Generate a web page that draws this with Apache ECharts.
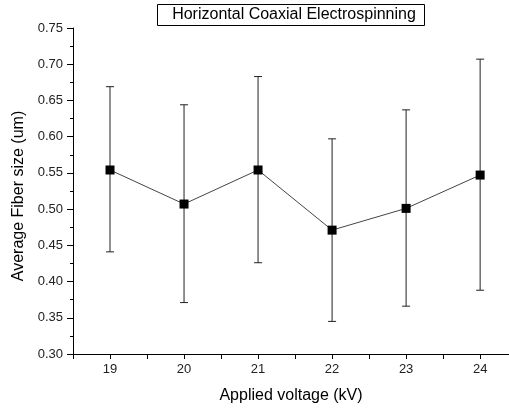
<!DOCTYPE html>
<html>
<head>
<meta charset="utf-8">
<script src="https://cdn.jsdelivr.net/npm/echarts@6/dist/echarts.min.js"></script>
<style>
  html, body { margin: 0; padding: 0; background: #fff; }
  #main { width: 509px; height: 409px; }
</style>
</head>
<body>
<div id="main"></div>
<script>
// voltage (kV) vs mean fiber size with error bars
var voltages = [19, 20, 21, 22, 23, 24];
var fiberSize = [0.554, 0.507, 0.554, 0.471, 0.501, 0.547];
var errLow = [0.441, 0.371, 0.426, 0.345, 0.366, 0.388];
var errHigh = [0.669, 0.644, 0.683, 0.597, 0.637, 0.707];

var font = 'Liberation Sans, Arial, sans-serif';

var lineData = [];
var barData = [];
for (var i = 0; i < voltages.length; i++) {
    lineData.push([voltages[i], fiberSize[i]]);
    barData.push([voltages[i], errLow[i], errHigh[i]]);
}

var myChart = echarts.init(document.getElementById('main'));
var option = {
    animation: false,
    grid: { left: 73, right: 0, top: 28, bottom: 54 },
    graphic: [
        {
            type: 'rect',
            shape: { x: 157.5, y: 4.5, width: 267, height: 21 },
            style: { fill: '#fff', stroke: '#000', lineWidth: 1 }
        },
        {
            type: 'text',
            x: 294, y: 15,
            style: {
                text: 'Horizontal Coaxial Electrospinning',
                font: '16px ' + font,
                fill: '#000',
                align: 'center',
                verticalAlign: 'middle'
            }
        },
        {
            type: 'text',
            x: 19, y: 196,
            rotation: Math.PI / 2,
            style: {
                text: 'Average Fiber size (um)',
                font: '16px ' + font,
                fill: '#000',
                align: 'center',
                verticalAlign: 'middle'
            }
        }
    ],
    xAxis: {
        type: 'value',
        min: 18.5,
        max: 24.39,
        interval: 0.5,
        name: 'Applied voltage (kV)',
        nameLocation: 'middle',
        nameGap: 34,
        nameTextStyle: { color: '#000', fontSize: 16, fontFamily: font },
        axisLine: { lineStyle: { color: '#000', width: 1 } },
        axisTick: { length: 5, lineStyle: { color: '#000' } },
        axisLabel: {
            color: '#222',
            fontSize: 13,
            fontFamily: font,
            margin: 9,
            showMaxLabel: false,
            formatter: function (v) {
                return Math.abs(v - Math.round(v)) < 1e-6 ? String(Math.round(v)) : '';
            }
        },
        splitLine: { show: false }
    },
    yAxis: {
        type: 'value',
        min: 0.3,
        max: 0.75,
        interval: 0.05,
        axisLine: { show: true, lineStyle: { color: '#000', width: 1 } },
        axisTick: { show: true, length: 6, lineStyle: { color: '#000' } },
        minorTick: { show: true, splitNumber: 2, length: 3, lineStyle: { color: '#000' } },
        axisLabel: {
            color: '#222',
            fontSize: 13,
            fontFamily: font,
            margin: 10,
            formatter: function (v) { return v.toFixed(2); }
        },
        splitLine: { show: false }
    },
    series: [
        {
            type: 'custom',
            data: barData,
            z: 1,
            renderItem: function (params, api) {
                var x = api.value(0);
                var lo = api.coord([x, api.value(1)]);
                var hi = api.coord([x, api.value(2)]);
                var w = 4;
                var st = { stroke: '#222', lineWidth: 1 };
                return {
                    type: 'group',
                    children: [
                        { type: 'line', shape: { x1: hi[0], y1: hi[1], x2: lo[0], y2: lo[1] }, style: st },
                        { type: 'line', shape: { x1: hi[0] - w, y1: hi[1], x2: hi[0] + w, y2: hi[1] }, style: st },
                        { type: 'line', shape: { x1: lo[0] - w, y1: lo[1], x2: lo[0] + w, y2: lo[1] }, style: st }
                    ]
                };
            }
        },
        {
            type: 'line',
            data: lineData,
            z: 2,
            symbol: 'rect',
            symbolSize: 9,
            itemStyle: { color: '#000' },
            lineStyle: { color: '#444', width: 1 }
        }
    ]
};
myChart.setOption(option);
</script>
</body>
</html>
